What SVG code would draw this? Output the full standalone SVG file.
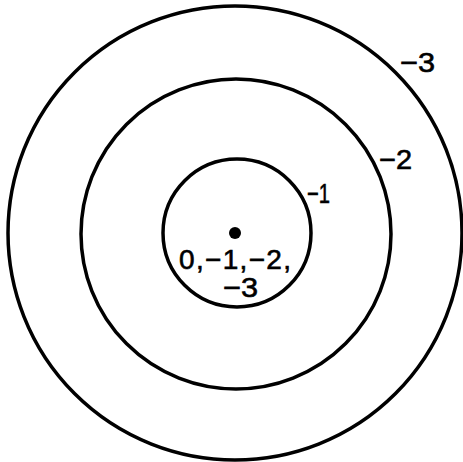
<svg xmlns="http://www.w3.org/2000/svg" width="463" height="462" viewBox="0 0 463 462">
<style>
.ring{fill:none;stroke:#000;stroke-width:3.5}
.lbl{font-family:"Liberation Sans",Arial,sans-serif;font-size:28px;fill:#000;stroke:#000;stroke-width:0.6}
</style>
<rect width="463" height="462" fill="#fff"/>
<g id="ring3"><circle class="ring" cx="235" cy="233" r="227"/><text class="lbl" x="400" y="72" textLength="35" lengthAdjust="spacingAndGlyphs">−3</text></g>
<g id="ring2"><circle class="ring" cx="236" cy="234" r="155"/><text class="lbl" x="379" y="169" textLength="33" lengthAdjust="spacingAndGlyphs">−2</text></g>
<g id="ring1"><circle class="ring" cx="237" cy="233" r="74"/><text class="lbl" x="307" y="203" font-size="25" textLength="23" lengthAdjust="spacingAndGlyphs">−1</text></g>
<g id="center"><circle cx="235" cy="233" r="6" fill="#000"/>
<text class="lbl" x="179" y="269" textLength="112" lengthAdjust="spacing">0,−1,−2,</text>
<text class="lbl" x="223" y="297" textLength="35" lengthAdjust="spacingAndGlyphs">−3</text></g>
</svg>
